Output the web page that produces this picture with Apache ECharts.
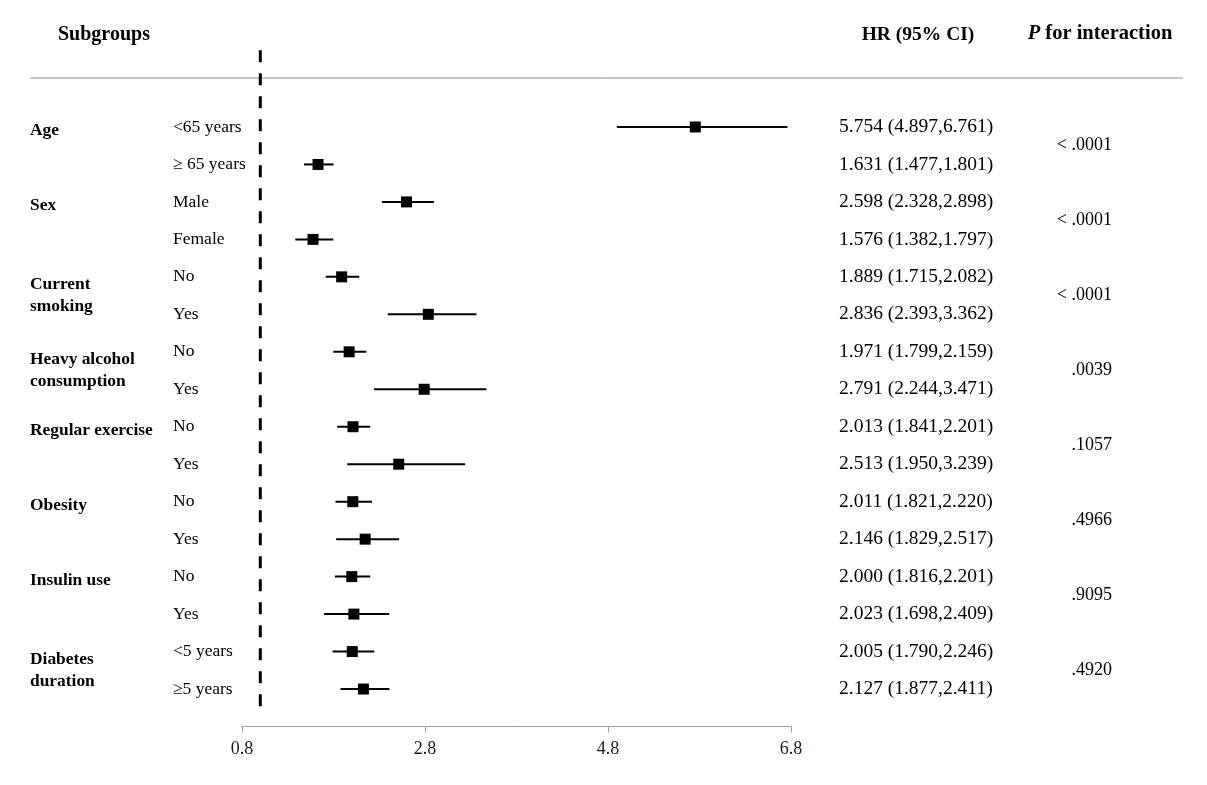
<!DOCTYPE html>
<html>
<head>
<meta charset="utf-8">
<script src="https://cdn.jsdelivr.net/npm/echarts@6/dist/echarts.min.js"></script>
<style>html,body{margin:0;padding:0;background:#fff}#c{width:1207px;height:785px}</style>
</head>
<body>
<div id="c"></div>
<script>
// ---- data ----
const groupLabels = ['Age', 'Sex', 'Current\nsmoking', 'Heavy alcohol\nconsumption', 'Regular exercise', 'Obesity', 'Insulin use', 'Diabetes\nduration'];
const groupSizes = [2, 2, 2, 2, 2, 2, 2, 2];
const subgroupLabels = ['<65 years', '\u2265 65 years', 'Male', 'Female', 'No', 'Yes', 'No', 'Yes', 'No', 'Yes', 'No', 'Yes', 'No', 'Yes', '<5 years', '\u22655 years'];
const hrValues = [5.754, 1.631, 2.598, 1.576, 1.889, 2.836, 1.971, 2.791, 2.013, 2.513, 2.011, 2.146, 2.000, 2.023, 2.005, 2.127];
const ciLower = [4.897, 1.477, 2.328, 1.382, 1.715, 2.393, 1.799, 2.244, 1.841, 1.950, 1.821, 1.829, 1.816, 1.698, 1.790, 1.877];
const ciUpper = [6.761, 1.801, 2.898, 1.797, 2.082, 3.362, 2.159, 3.471, 2.201, 3.239, 2.220, 2.517, 2.201, 2.409, 2.246, 2.411];
const pInteraction = ['< .0001', '< .0001', '< .0001', '.0039', '.1057', '.4966', '.9095', '.4920'];
const xTicks = [0.8, 2.8, 4.8, 6.8];
const refValue = 1;

// ---- derived ----
const FONT = '"Liberation Serif", "Times New Roman", serif';
const rows = hrValues.map((v, i) => [v, ciLower[i], ciUpper[i], i]);
const hrTexts = hrValues.map((v, i) => v.toFixed(3) + ' (' + ciLower[i].toFixed(3) + ',' + ciUpper[i].toFixed(3) + ')');
const groupStart = [];
{ let s = 0; groupSizes.forEach(n => { groupStart.push(s); s += n; }); }

function textSeries(items, rowFn, xPx, font, align) {
  return {
    type: 'custom',
    silent: true,
    clip: false,
    data: items.map((t, i) => [refValue, rowFn(i)]),
    encode: { x: 0, y: 1 },
    renderItem: function (params, api) {
      const p = api.coord([refValue, api.value(1)]);
      return {
        type: 'text',
        x: xPx,
        y: p[1],
        style: {
          text: items[params.dataIndex],
          font: font,
          fill: '#000',
          textAlign: align, align: align,
          textVerticalAlign: 'middle', verticalAlign: 'middle',
          lineHeight: 22
        }
      };
    }
  };
}

const chart = echarts.init(document.getElementById('c'));
chart.setOption({
  animation: false,
  backgroundColor: '#fff',
  grid: { left: 242, right: 416, top: 89.5, bottom: 58.5, containLabel: false },
  xAxis: {
    type: 'value', min: xTicks[0], max: xTicks[xTicks.length - 1], position: 'bottom',
    splitLine: { show: false },
    axisLine: { show: true, onZero: false, lineStyle: { color: '#a0a0a0', width: 1 } },
    axisTick: { show: true, customValues: xTicks, length: 6, lineStyle: { color: '#a0a0a0' } },
    axisLabel: { customValues: xTicks, formatter: v => Number(v).toFixed(1), color: '#1a1a2a', fontFamily: FONT, fontSize: 18, margin: 14 }
  },
  yAxis: { type: 'value', min: -1, max: 16, inverse: true, show: false },
  graphic: [
    { type: 'line', shape: { x1: 30, y1: 78, x2: 1183, y2: 78 }, style: { stroke: '#8a8a8a', lineWidth: 1 } },
    { type: 'text', x: 58, y: 35, style: { text: 'Subgroups', font: 'bold 20px ' + FONT, fill: '#000', align: 'left', verticalAlign: 'middle' } },
    { type: 'text', x: 918, y: 35, style: { text: 'HR (95% CI)', font: 'bold 19.5px ' + FONT, fill: '#000', align: 'center', verticalAlign: 'middle' } },
    { type: 'text', x: 1100, y: 34, style: { text: '{i|P} for interaction', font: 'bold 20.5px ' + FONT, fill: '#000', align: 'center', verticalAlign: 'middle',
        rich: { i: { fontStyle: 'italic', fontWeight: 'bold', fontSize: 20.5, fontFamily: FONT, fill: '#000' } } } }
  ],
  series: [
    {
      type: 'custom',
      silent: true,
      clip: false,
      data: [[refValue, -2.05, 15.75]],
      encode: { x: 0, y: [1, 2] },
      renderItem: function (params, api) {
        const a = api.coord([api.value(0), api.value(1)]);
        const b = api.coord([api.value(0), api.value(2)]);
        return { type: 'line', shape: { x1: a[0], y1: a[1], x2: b[0], y2: b[1] }, style: { stroke: '#000', lineWidth: 3, lineDash: [12, 11] } };
      }
    },
    {
      type: 'custom',
      silent: true,
      data: rows,
      encode: { x: [0, 1, 2], y: 3 },
      renderItem: function (params, api) {
        const r = api.value(3);
        const c = api.coord([api.value(0), r]);
        const lo = api.coord([api.value(1), r]);
        const hi = api.coord([api.value(2), r]);
        const s = 11;
        return {
          type: 'group',
          children: [
            { type: 'line', shape: { x1: lo[0], y1: lo[1], x2: hi[0], y2: hi[1] }, style: { stroke: '#000', lineWidth: 2 } },
            { type: 'rect', shape: { x: c[0] - s / 2, y: c[1] - s / 2, width: s, height: s }, style: { fill: '#000' } }
          ]
        };
      }
    },
    textSeries(groupLabels, i => groupLabels[i].indexOf('\n') >= 0 ? groupStart[i] + (groupSizes[i] - 1) / 2 : groupStart[i] + 0.1, 30, 'bold 17.4px ' + FONT, 'left'),
    textSeries(subgroupLabels, i => i, 173, '17.5px ' + FONT, 'left'),
    textSeries(hrTexts, i => i, 839, '19.5px ' + FONT, 'left'),
    textSeries(pInteraction, i => groupStart[i] + (groupSizes[i] - 1) / 2, 1112, '18px ' + FONT, 'right')
  ]
});
</script>
</body>
</html>
